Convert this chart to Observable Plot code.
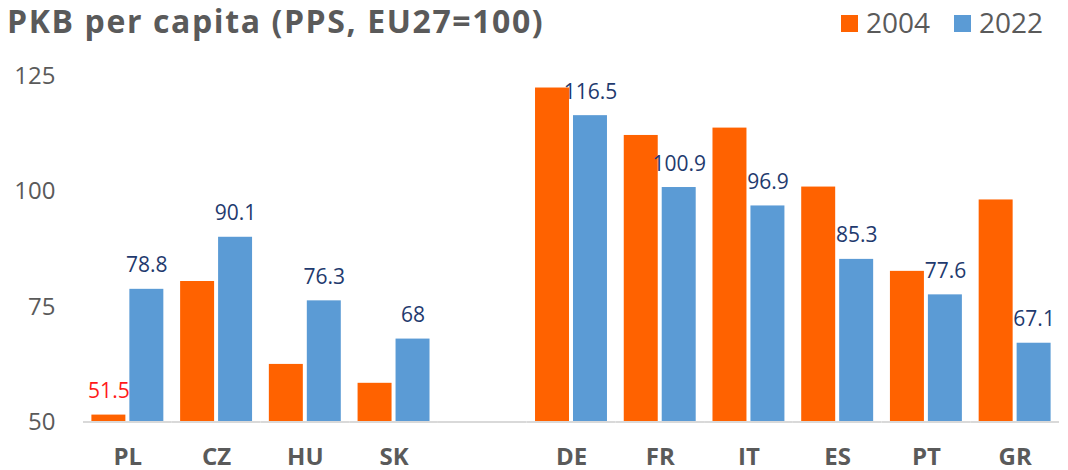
<!DOCTYPE html>
<html>
<head>
<meta charset="utf-8">
<script src="https://cdn.jsdelivr.net/npm/d3@7"></script>
<script src="https://cdn.jsdelivr.net/npm/@observablehq/plot@0.6"></script>
<style>
  html, body { margin: 0; padding: 0; background: #fff; }
  body { width: 1068px; height: 470px; overflow: hidden; font-family: "Open Sans", sans-serif; }
  #header { position: relative; height: 45px; }
  #title { position: absolute; left: 7px; top: 3px; font-size: 32px; line-height: 36px; font-weight: bold; color: #5a5a5a; white-space: nowrap; letter-spacing: 1.6px; }
  .lg { position: absolute; top: 15px; width: 17px; height: 17px; }
  .lt { position: absolute; top: 4px; font-size: 28px; line-height: 36px; color: #5a5a5a; }
  #chart svg { overflow: visible; display: block; }
</style>
</head>
<body>
<div id="header">
  <div id="title">PKB per capita (PPS, EU27=100)</div>
</div>
<div id="chart"></div>
<script>
const countries = ["PL", "CZ", "HU", "SK", "DE", "FR", "IT", "ES", "PT", "GR"];
const categoryOrder = ["PL", "CZ", "HU", "SK", " ", "DE", "FR", "IT", "ES", "PT", "GR"];
const years = ["2004", "2022"];
const values2004 = [51.5, 80.5, 62.5, 58.4, 122.5, 112.2, 113.8, 101.0, 82.7, 98.2];
const values2022 = [78.8, 90.1, 76.3, 68, 116.5, 100.9, 96.9, 85.3, 77.6, 67.1];
const yTicks = [50, 75, 100, 125];
const colors = ["#FF6200", "#5B9BD5"];

const data = [];
countries.forEach((c, i) => {
  data.push({country: c, year: years[0], value: values2004[i]});
  data.push({country: c, year: years[1], value: values2022[i]});
});
const baseline = categoryOrder.map(c => ({country: c}));

// legend
const header = document.getElementById("header");
const legendPos = [{sq: 841, tx: 866}, {sq: 954, tx: 979}];
years.forEach((y, i) => {
  const sq = document.createElement("div");
  sq.className = "lg";
  sq.style.left = legendPos[i].sq + "px";
  sq.style.background = colors[i];
  header.appendChild(sq);
  const t = document.createElement("div");
  t.className = "lt";
  t.style.left = legendPos[i].tx + "px";
  t.textContent = y;
  header.appendChild(t);
});

const chart = Plot.plot({
  width: 1068,
  height: 425,
  marginTop: 31,
  marginBottom: 48.5,
  marginLeft: 83,
  marginRight: 9,
  style: {fontFamily: "Open Sans, sans-serif", background: "transparent"},
  fx: {domain: categoryOrder, paddingInner: 0, paddingOuter: 0, round: false},
  x: {domain: years, paddingInner: 0.105, paddingOuter: 0.221, round: false},
  y: {domain: [50, 125]},
  color: {domain: years, range: colors},
  marks: [
    Plot.barY(data, {fx: "country", x: "year", y1: 50, y2: "value", fill: "year"}),
    Plot.ruleY(baseline, {fx: "country", y: 50, stroke: "#d9d9d9", strokeWidth: 2}),
    Plot.text(data.filter(d => d.year === "2022"), {
      fx: "country", x: "year", y: "value", text: d => String(d.value),
      lineAnchor: "bottom", dy: -17, fill: "#1f3a6e", fontSize: 21
    }),
    Plot.text(data.filter(d => d.year === "2004" && d.country === "PL"), {
      fx: "country", x: "year", y: "value", text: d => String(d.value),
      lineAnchor: "bottom", dy: -17, fill: "#ff1a1a", fontSize: 21
    }),
    Plot.axisY({ticks: yTicks, tickSize: 0, tickPadding: 28, fontSize: 24, fill: "#5a5a5a", label: null}),
    Plot.axisX({ticks: [], label: null}),
    Plot.axisFx({anchor: "bottom", tickSize: 0, tickPadding: 26, fontSize: 24, fontWeight: "bold", fill: "#5a5a5a", label: null})
  ]
});
document.getElementById("chart").appendChild(chart);
</script>
</body>
</html>
